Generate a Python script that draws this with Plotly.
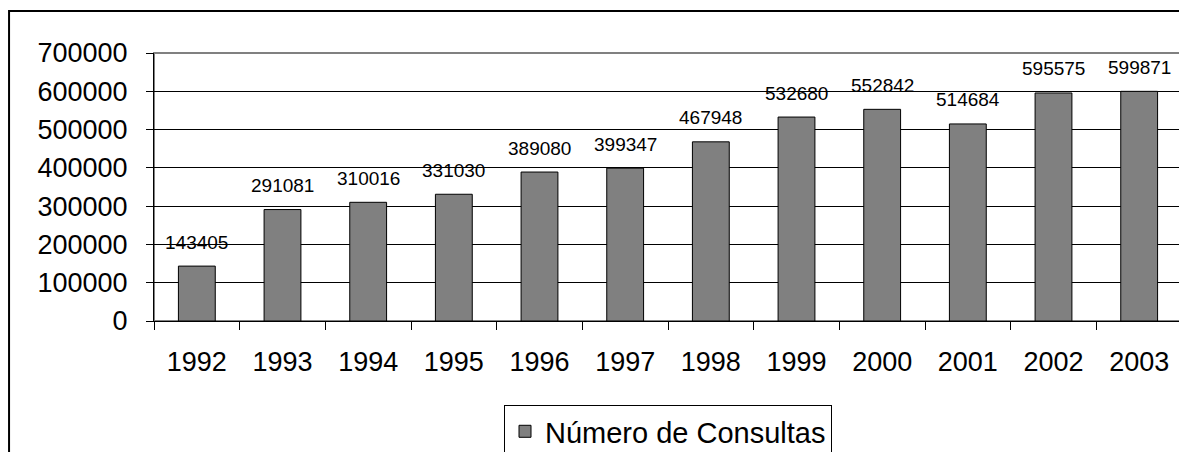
import plotly.graph_objects as go

years = ["1992", "1993", "1994", "1995", "1996", "1997", "1998", "1999", "2000", "2001", "2002", "2003"]
consultas = [143405, 291081, 310016, 331030, 389080, 399347, 467948, 532680, 552842, 514684, 595575, 599871]
series_name = "Número de Consultas"
y_ticks = [0, 100000, 200000, 300000, 400000, 500000, 600000, 700000]

FONT = "Arial, Liberation Sans, sans-serif"

fig = go.Figure()
fig.add_trace(go.Bar(
    x=years, y=consultas, name=series_name,
    marker=dict(color="#808080", line=dict(color="black", width=1)),
))

for i, (yr, v) in enumerate(zip(years, consultas)):
    fig.add_annotation(x=i, y=v, text=str(v), showarrow=False, xref="x", yref="y",
                       yanchor="middle", yshift=24,
                       font=dict(family=FONT, size=19, color="black"))

# plot area border (grey, top/right)
fig.add_shape(type="rect", xref="paper", yref="paper", x0=0, x1=1, y0=0, y1=1,
              line=dict(color="#808080", width=2), layer="below")
# outer chart border
fig.add_shape(type="rect", xref="paper", yref="paper", x0=-0.141, x1=1.3, y0=-1.0, y1=1.157,
              line=dict(color="black", width=2), layer="below")

fig.update_layout(
    width=1179, height=444,
    margin=dict(l=146, r=5, t=45, b=131),
    paper_bgcolor="white", plot_bgcolor="white",
    bargap=0.57,
    font=dict(family=FONT, size=27, color="black"),
    showlegend=True,
    legend=dict(orientation="h", x=0.5, xanchor="center", xref="paper",
                y=0.106, yanchor="top", yref="container",
                bordercolor="black", borderwidth=1, bgcolor="white",
                font=dict(family=FONT, size=29, color="black")),
)
fig.update_xaxes(type="category", categoryorder="array", categoryarray=years,
                 range=[-0.5, len(years) - 0.5], autorange=False,
                 showline=True, linecolor="black", linewidth=1,
                 ticks="outside", tickson="boundaries", ticklen=8, tickcolor="black",
                 showgrid=False, ticklabelstandoff=17, tickangle=0,
                 tickfont=dict(family=FONT, size=27, color="black"))
fig.update_yaxes(range=[0, 700000], tickvals=y_ticks, ticktext=[str(t) for t in y_ticks],
                 showline=True, linecolor="black", linewidth=1,
                 ticks="outside", ticklen=7, tickcolor="black",
                 showgrid=True, gridcolor="black", gridwidth=1, zeroline=False,
                 ticklabelstandoff=13,
                 tickfont=dict(family=FONT, size=27, color="black"))

fig.write_html("out.html")
